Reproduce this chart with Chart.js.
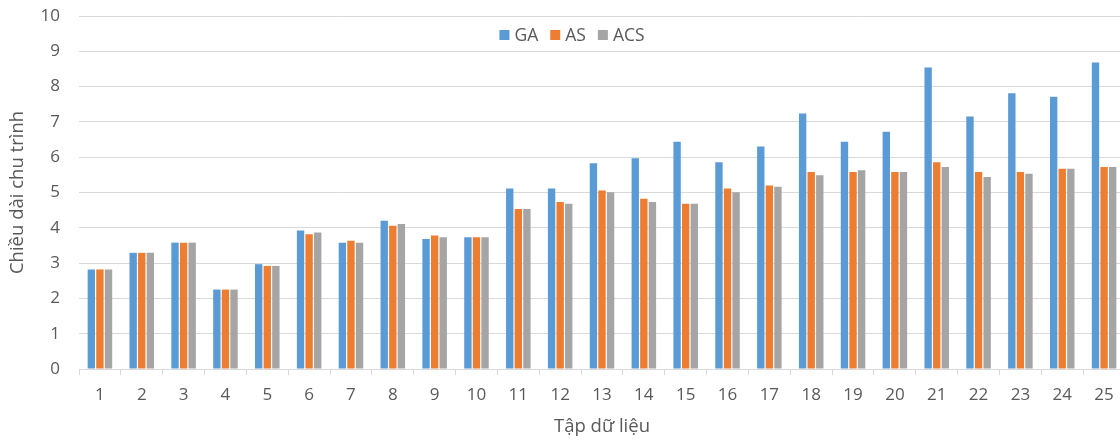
<!DOCTYPE html>
<html lang="vi">
<head>
<meta charset="utf-8">
<title>Chiều dài chu trình</title>
<script src="https://cdn.jsdelivr.net/npm/chart.js@4/dist/chart.umd.min.js"></script>
<style>
    html, body { margin: 0; padding: 0; background: #fff; overflow: hidden; }
    #wrap { width: 1126px; height: 442px; position: relative; }
</style>
</head>
<body>
<div id="wrap"><canvas id="cycle-chart"></canvas></div>
<script>
// Tập dữ liệu 1..25
const categories = ['1', '2', '3', '4', '5', '6', '7', '8', '9', '10', '11', '12', '13',
    '14', '15', '16', '17', '18', '19', '20', '21', '22', '23', '24', '25'];

const gaValues = [2.82, 3.29, 3.58, 2.25, 2.97, 3.92, 3.58, 4.20, 3.68, 3.73, 5.11, 5.11, 5.83,
    5.97, 6.44, 5.86, 6.30, 7.24, 6.44, 6.72, 8.54, 7.15, 7.81, 7.71, 8.68];
const asValues = [2.82, 3.29, 3.58, 2.25, 2.92, 3.82, 3.63, 4.06, 3.78, 3.73, 4.53, 4.73, 5.06,
    4.82, 4.68, 5.11, 5.20, 5.58, 5.58, 5.58, 5.86, 5.58, 5.58, 5.67, 5.72];
const acsValues = [2.82, 3.29, 3.58, 2.25, 2.92, 3.87, 3.58, 4.11, 3.73, 3.73, 4.53, 4.68, 5.01,
    4.73, 4.68, 5.01, 5.16, 5.49, 5.63, 5.58, 5.72, 5.44, 5.53, 5.67, 5.72];

const yTicks = [0, 1, 2, 3, 4, 5, 6, 7, 8, 9, 10];

const FONT = '"Open Sans", "DejaVu Sans", sans-serif';
const TEXT_COLOR = '#595959';
const GRID_COLOR = '#d9d9d9';

document.addEventListener('DOMContentLoaded', function() {
    const ctx = document.getElementById('cycle-chart').getContext('2d');

    // Chú thích nằm bên trong vùng vẽ, giữa hai đường lưới trên cùng
    const innerLegend = {
        id: 'innerLegend',
        afterDraw(chart) {
            const c = chart.ctx;
            const box = 10, gapText = 5, gapItem = 12;
            c.save();
            c.font = '17.5px ' + FONT;
            c.textBaseline = 'middle';
            const items = chart.data.datasets.map(ds => ({
                label: ds.label,
                color: ds.backgroundColor,
                w: box + gapText + c.measureText(ds.label).width
            }));
            const total = items.reduce((s, it) => s + it.w, 0) + gapItem * (items.length - 1);
            let x = 572 - total / 2;
            const y = 35;
            items.forEach(it => {
                c.fillStyle = it.color;
                c.fillRect(x, y - box / 2, box, box);
                c.fillStyle = TEXT_COLOR;
                c.fillText(it.label, x + box + gapText, y + 1);
                x += it.w + gapItem;
            });
            c.restore();
        }
    };

    const barOpts = { categoryPercentage: 0.615, barPercentage: 0.86, borderWidth: 0 };

    new Chart(ctx, {
        type: 'bar',
        data: {
            labels: categories,
            datasets: [
                Object.assign({ label: 'GA', data: gaValues, backgroundColor: '#5b9bd5' }, barOpts),
                Object.assign({ label: 'AS', data: asValues, backgroundColor: '#ed7d31' }, barOpts),
                Object.assign({ label: 'ACS', data: acsValues, backgroundColor: '#a5a5a5' }, barOpts)
            ]
        },
        options: {
            responsive: true,
            maintainAspectRatio: false,
            animation: false,
            layout: { padding: { top: 16, right: 1, bottom: 0, left: 0 } },
            plugins: {
                legend: { display: false },
                tooltip: { enabled: false }
            },
            scales: {
                x: {
                    grid: {
                        offset: true,
                        drawOnChartArea: false,
                        drawTicks: true,
                        tickLength: 6,
                        color: GRID_COLOR
                    },
                    border: { display: true, color: GRID_COLOR },
                    ticks: {
                        color: TEXT_COLOR,
                        font: { family: FONT, size: 17 },
                        padding: 10,
                        maxRotation: 0,
                        autoSkip: false
                    },
                    title: {
                        display: true,
                        text: 'Tập dữ liệu',
                        color: TEXT_COLOR,
                        font: { family: FONT, size: 18.5 },
                        padding: { top: 0, bottom: 4 }
                    },
                    afterFit: function(scale) {
                        scale.height = 73;
                        scale.paddingLeft = 0;
                        scale.paddingRight = 0;
                    }
                },
                y: {
                    min: 0,
                    max: 10,
                    afterBuildTicks: function(scale) {
                        scale.ticks = yTicks.map(v => ({ value: v }));
                    },
                    grid: { color: GRID_COLOR, drawTicks: false },
                    border: { display: false },
                    ticks: {
                        color: TEXT_COLOR,
                        font: { family: FONT, size: 17 },
                        padding: 19
                    },
                    title: {
                        display: true,
                        text: 'Chiều dài chu trình',
                        color: TEXT_COLOR,
                        font: { family: FONT, size: 18.5 },
                        padding: { top: 7, bottom: 0 }
                    },
                    afterFit: function(scale) {
                        scale.width = 79;
                        scale.paddingTop = 0;
                        scale.paddingBottom = 0;
                    }
                }
            }
        },
        plugins: [innerLegend]
    });
});
</script>
</body>
</html>
